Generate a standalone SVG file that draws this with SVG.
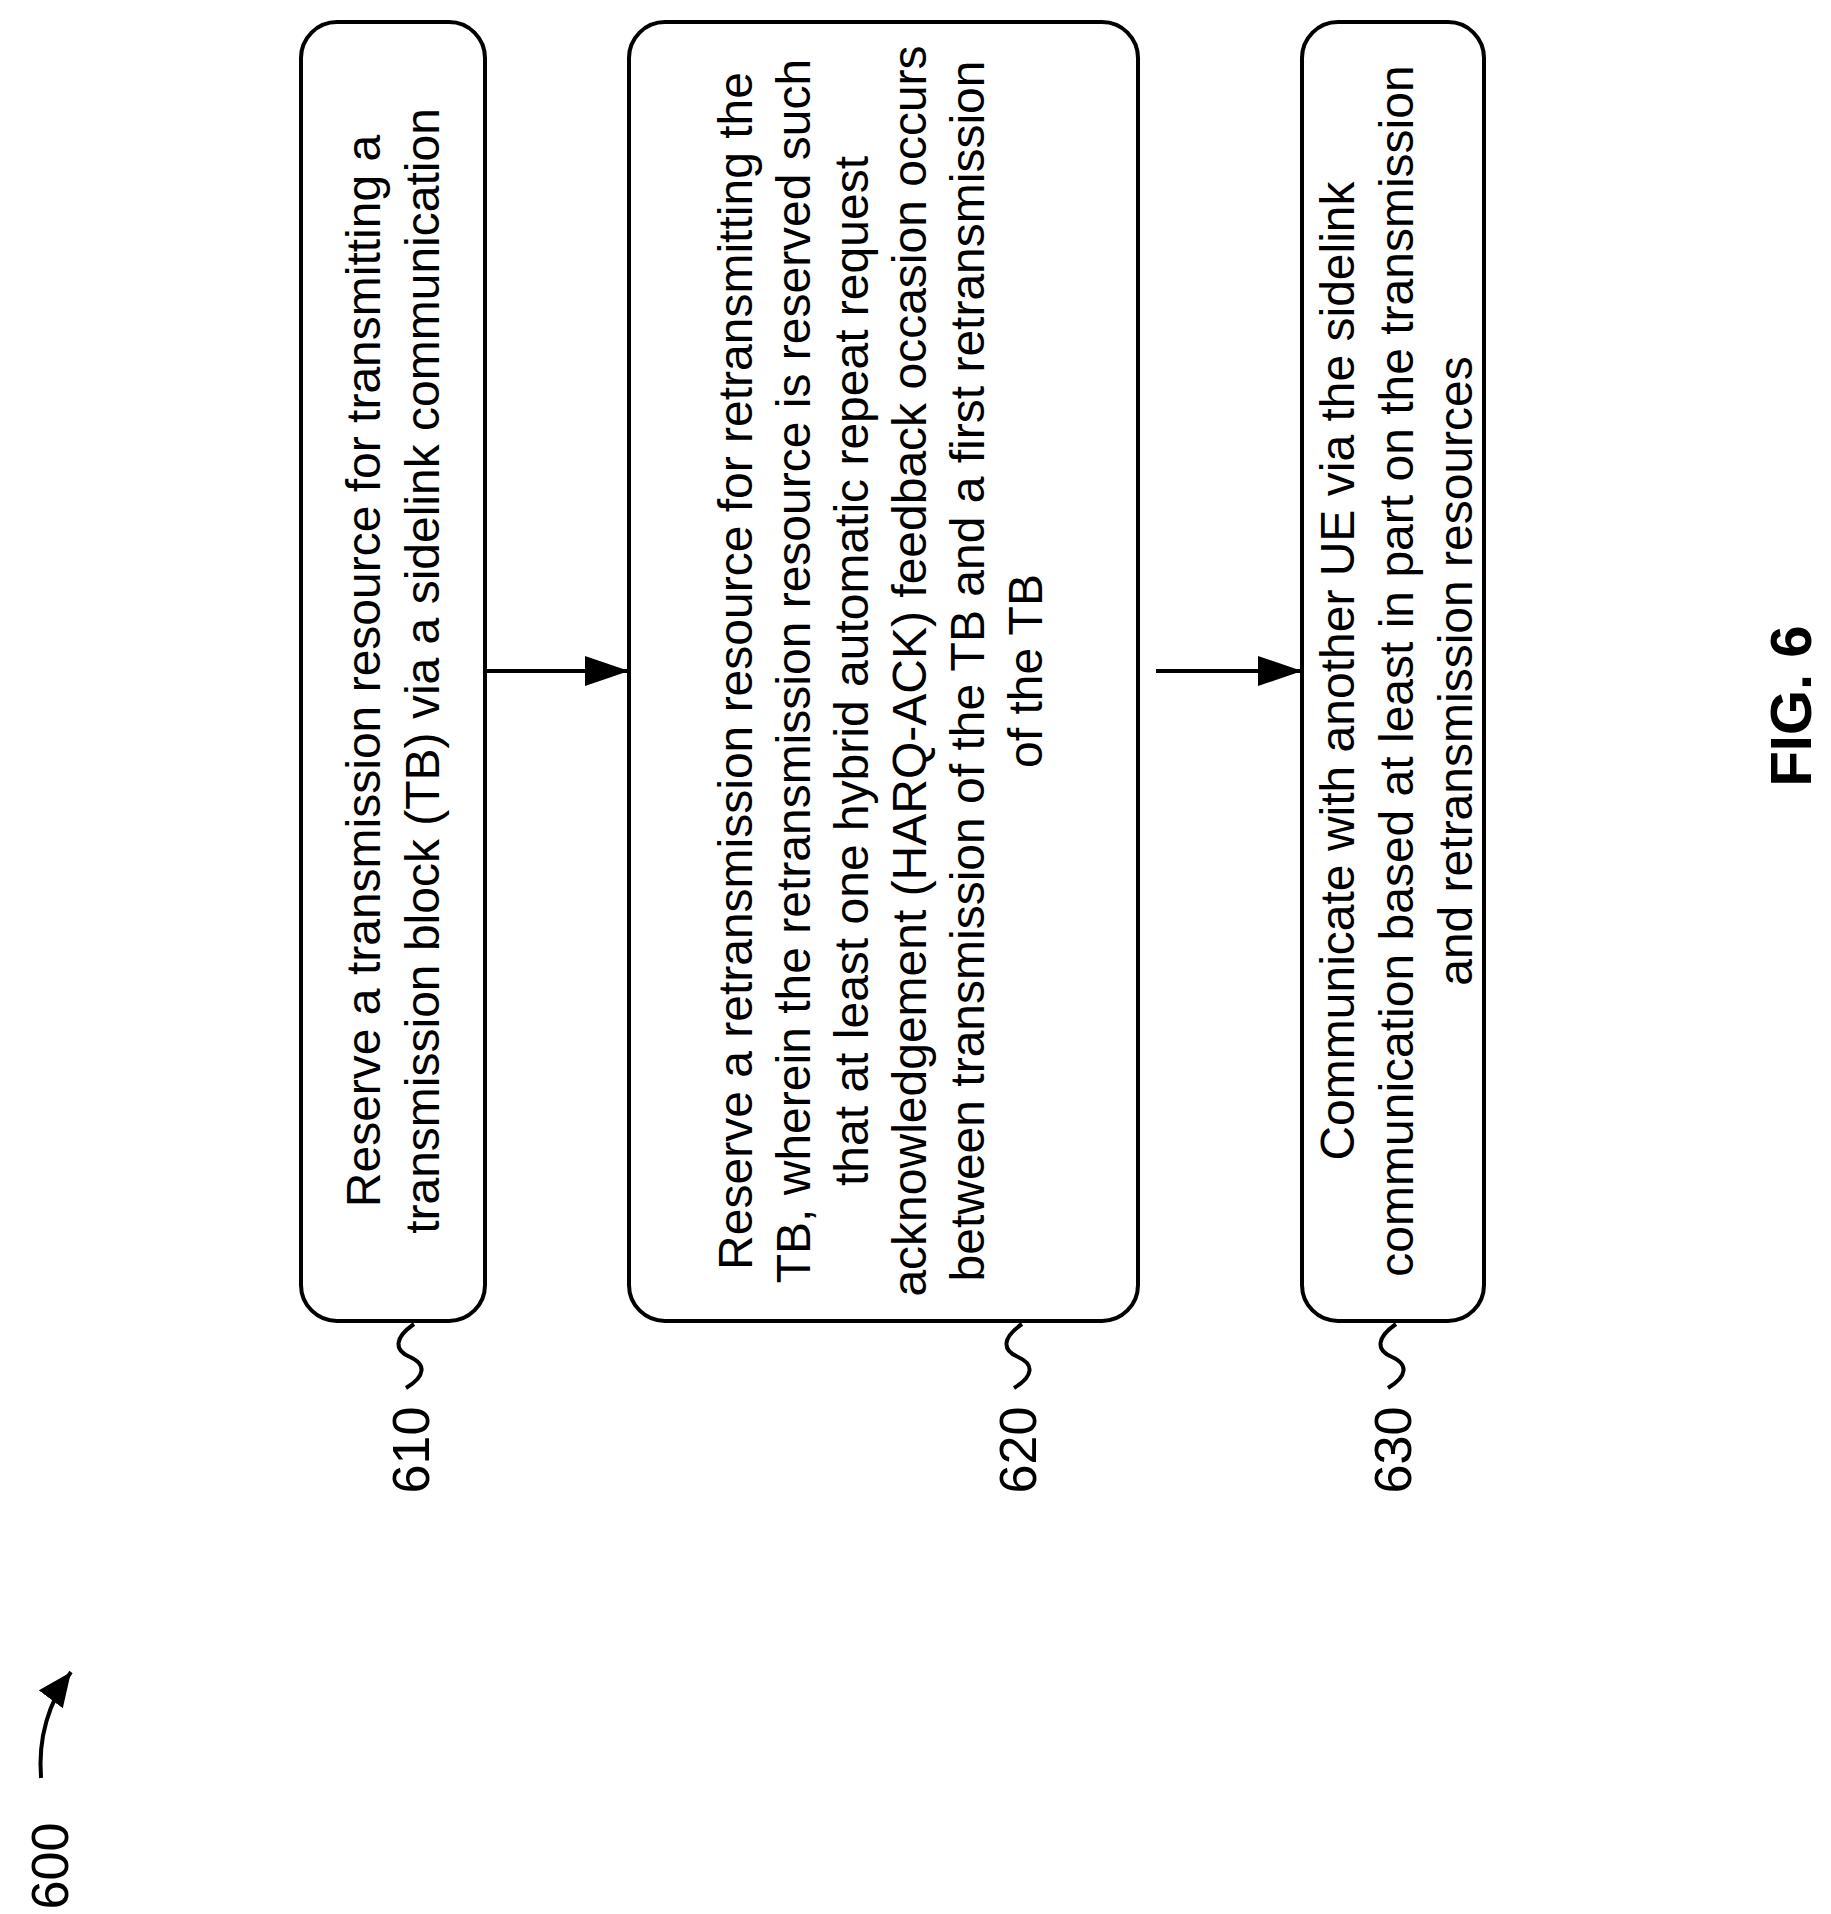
<svg xmlns="http://www.w3.org/2000/svg" width="1831" height="1914" viewBox="0 0 1831 1914">
<style>
.box{fill:#fff;stroke:#000;stroke-width:4}
.t{font-family:"Liberation Sans",Arial,sans-serif;font-size:48px;text-anchor:middle;fill:#000}
.lbl{font-family:"Liberation Sans",Arial,sans-serif;font-size:52px;text-anchor:middle;fill:#000}
.ln{fill:none;stroke:#000;stroke-width:4}
</style>
<defs>
<marker id="ah2" viewBox="0 0 10 10" refX="10" refY="5" markerWidth="44" markerHeight="30" orient="auto" markerUnits="userSpaceOnUse" preserveAspectRatio="none"><path d="M0,0 L10,5 L0,10 z" fill="#000"/></marker>
<marker id="ah3" viewBox="0 0 10 10" refX="10" refY="5" markerWidth="34" markerHeight="30" orient="auto" markerUnits="userSpaceOnUse" preserveAspectRatio="none"><path d="M0,0 L10,5 L0,10 z" fill="#000"/></marker>
</defs>
<g id="n610">
<rect class="box" x="301" y="22" width="184" height="1299" rx="36"/>
<g transform="rotate(-90 0 0)">
<text class="t" x="-671" y="380">Reserve a transmission resource for transmitting a</text>
<text class="t" x="-671" y="439">transmission block (TB) via a sidelink communication</text>
</g>
<path class="ln" d="M414,1324 C394,1338 394,1350 410,1357 C426,1364 426,1376 406,1388"/>
<text class="lbl" transform="rotate(-90 429 1450)" x="429" y="1450">610</text>
</g>
<g id="n620">
<rect class="box" x="629" y="22" width="509" height="1299" rx="36"/>
<g transform="rotate(-90 0 0)">
<text class="t" x="-671" y="752">Reserve a retransmission resource for retransmitting the</text>
<text class="t" x="-671" y="810">TB, wherein the retransmission resource is reserved such</text>
<text class="t" x="-671" y="868">that at least one hybrid automatic repeat request</text>
<text class="t" x="-671" y="926">acknowledgement (HARQ-ACK) feedback occasion occurs</text>
<text class="t" x="-671" y="984">between transmission of the TB and a first retransmission</text>
<text class="t" x="-671" y="1042">of the TB</text>
</g>
<path class="ln" d="M1022,1324 C1002,1338 1002,1350 1018,1357 C1034,1364 1034,1376 1014,1388"/>
<text class="lbl" transform="rotate(-90 1036 1450)" x="1036" y="1450">620</text>
</g>
<g id="n630">
<rect class="box" x="1302" y="22" width="182" height="1299" rx="36"/>
<g transform="rotate(-90 0 0)">
<text class="t" x="-671" y="1354">Communicate with another UE via the sidelink</text>
<text class="t" x="-671" y="1413">communication based at least in part on the transmission</text>
<text class="t" x="-671" y="1472">and retransmission resources</text>
</g>
<path class="ln" d="M1396,1324 C1376,1338 1376,1350 1392,1357 C1408,1364 1408,1376 1388,1388"/>
<text class="lbl" transform="rotate(-90 1411 1450)" x="1411" y="1450">630</text>
</g>
<g id="connectors">
<line class="ln" x1="485" y1="671" x2="629" y2="671" marker-end="url(#ah2)"/>
<line class="ln" x1="1156" y1="671" x2="1302" y2="671" marker-end="url(#ah2)"/>
<path class="ln" d="M41,1778 C38,1738 48,1703 71,1672" marker-end="url(#ah3)"/>
</g>
<text class="lbl" transform="rotate(-90 68 1866)" x="68" y="1866">600</text>
<text transform="rotate(-90 1811 706)" x="1811" y="706" style="font-family:'Liberation Sans',Arial,sans-serif;font-size:58px;font-weight:bold;text-anchor:middle">FIG. 6</text>
</svg>
